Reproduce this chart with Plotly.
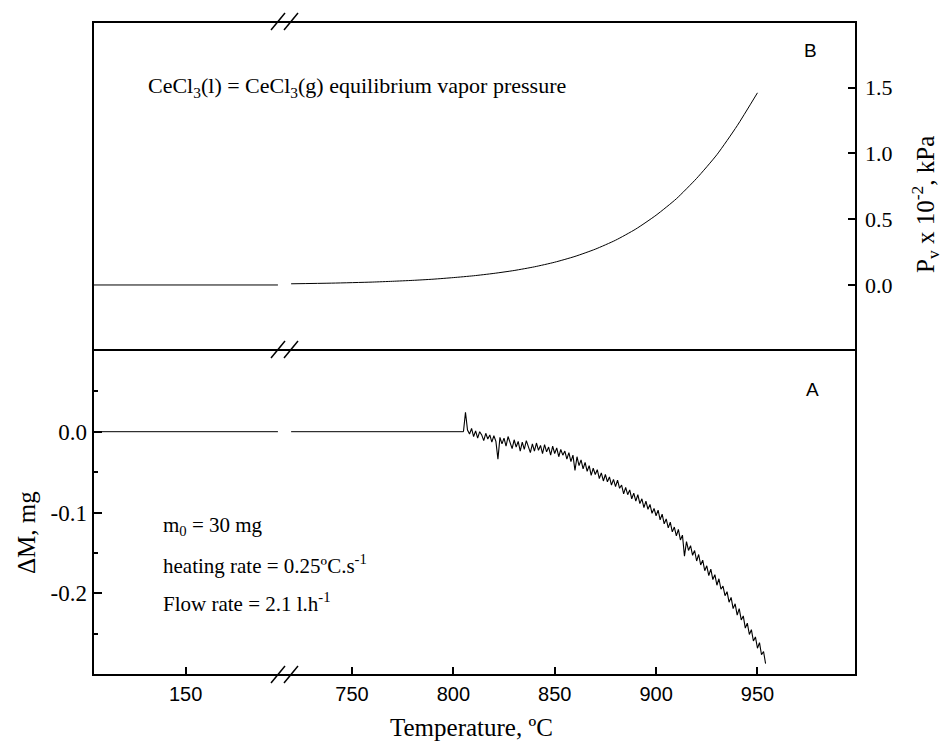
import plotly.graph_objects as go

# ---------------- data ----------------
# Panel B: CeCl3 equilibrium vapor pressure (P x 10^-2 kPa)
T_pv_low = [104, 195.5]
P_pv_low = [0.0, 0.0]
T_pv_high = [720, 740, 760, 770, 780, 790, 800, 810, 820, 830, 840, 850, 860, 870, 880, 890,
             900, 910, 920, 930, 940, 950]
P_pv_high = [0.009, 0.014, 0.022, 0.028, 0.035, 0.044, 0.056, 0.070, 0.088, 0.110, 0.138, 0.173,
             0.217, 0.272, 0.34, 0.425, 0.53, 0.655, 0.81, 0.99, 1.21, 1.46]

# Panel A: mass change (mg)
T_dm_low = [104, 195.5]
DM_low = [0.0, 0.0]
T_dm_flat = [720, 805]
DM_flat = [0.0, 0.0]
T_dm = list(range(805, 955))
DM = [
    0.000, 0.024, 0.002, -0.003, 0.004,
    -0.006, 0.001, -0.008, 0.000, -0.004,
    -0.011, -0.002, -0.009, -0.004, -0.013,
    -0.005, -0.012, -0.034, -0.007, -0.015,
    -0.008, -0.018, -0.006, -0.014, -0.021,
    -0.010, -0.019, -0.012, -0.024, -0.013,
    -0.022, -0.011, -0.020, -0.026, -0.015,
    -0.024, -0.014, -0.023, -0.017, -0.027,
    -0.016, -0.025, -0.019, -0.029, -0.018,
    -0.027, -0.020, -0.031, -0.022, -0.029,
    -0.024, -0.034, -0.026, -0.037, -0.029,
    -0.048, -0.031, -0.042, -0.035, -0.046,
    -0.038, -0.049, -0.042, -0.054, -0.045,
    -0.053, -0.047, -0.058, -0.051, -0.061,
    -0.053, -0.062, -0.056, -0.066, -0.059,
    -0.068, -0.060, -0.070, -0.066, -0.077,
    -0.069, -0.078, -0.072, -0.083, -0.076,
    -0.086, -0.078, -0.089, -0.083, -0.094,
    -0.086, -0.096, -0.090, -0.101, -0.095,
    -0.104, -0.097, -0.109, -0.102, -0.114,
    -0.108, -0.119, -0.112, -0.124, -0.118,
    -0.129, -0.121, -0.134, -0.128, -0.154,
    -0.136, -0.147, -0.141, -0.153, -0.147,
    -0.160, -0.152, -0.165, -0.159, -0.172,
    -0.166, -0.178, -0.170, -0.183, -0.177,
    -0.190, -0.182, -0.195, -0.191, -0.203,
    -0.198, -0.211, -0.205, -0.219, -0.213,
    -0.227, -0.219, -0.233, -0.228, -0.243,
    -0.237, -0.251, -0.245, -0.259, -0.254,
    -0.268, -0.261, -0.276, -0.272, -0.287,
]

x_ticks_low = [150]
x_ticks_high = [750, 800, 850, 900, 950]
y_ticks_A = [0.0, -0.1, -0.2]
y_ticktext_A = ["0.0", "-0.1", "-0.2"]
y_minor_A = [0.05, -0.05, -0.15, -0.25]
y_ticks_B = [0.0, 0.5, 1.0, 1.5]
y_ticktext_B = ["0.0", "0.5", "1.0", "1.5"]

# ---------------- layout geometry ----------------
W, H = 945, 746
L, R, T, B = 93, 89, 22, 71
PW, PH = W - L - R, H - T - B
BREAK_PX = 283
MID_PX = 350

def px_x(px):
    return (px - L) / PW

def px_y(py):
    return (H - B - py) / PH

split = px_x(BREAK_PX)
mid = px_y(MID_PX)

line_style = dict(color="black", width=1)
fig = go.Figure()
fig.add_trace(go.Scatter(x=T_dm_low, y=DM_low, mode="lines", line=line_style, xaxis="x", yaxis="y"))
fig.add_trace(go.Scatter(x=T_dm_flat, y=DM_flat, mode="lines", line=line_style, xaxis="x2", yaxis="y"))
fig.add_trace(go.Scatter(x=T_dm, y=DM, mode="lines", line=dict(color="black", width=1.1), xaxis="x2", yaxis="y"))
fig.add_trace(go.Scatter(x=T_pv_low, y=P_pv_low, mode="lines", line=line_style, xaxis="x", yaxis="y2"))
fig.add_trace(go.Scatter(x=T_pv_high, y=P_pv_high, mode="lines",
                         line=dict(color="black", width=1, shape="spline", smoothing=0.6),
                         xaxis="x2", yaxis="y2"))

sans = "Liberation Sans, Arial, sans-serif"
serif = "Liberation Serif, Times New Roman, serif"

xcommon = dict(showline=False, showgrid=False, zeroline=False, ticks="inside", ticklen=8, tickwidth=1.5,
               tickcolor="black", tickfont=dict(family=sans, size=20, color="black"), anchor="y",
               ticklabelstandoff=5)

fig.update_layout(
    width=W, height=H,
    margin=dict(l=L, r=R, t=T, b=B),
    paper_bgcolor="white", plot_bgcolor="white",
    showlegend=False,
    xaxis=dict(domain=[0, split], range=[104.3, 198.0], tickvals=x_ticks_low, **xcommon),
    xaxis2=dict(domain=[split, 1], range=[716.0, 998.6], tickvals=x_ticks_high, **xcommon),
    yaxis=dict(domain=[0, mid], range=[-0.3011, 0.1011], anchor="x", side="left",
               showline=False, showgrid=False, zeroline=False,
               tickvals=y_ticks_A, ticktext=y_ticktext_A, ticks="inside", ticklen=9, tickwidth=1.5,
               tickcolor="black", tickfont=dict(family=serif, size=23, color="black"),
               ticklabelstandoff=5,
               minor=dict(tickvals=y_minor_A, ticks="inside", ticklen=5, tickwidth=1.5,
                          tickcolor="black", showgrid=False)),
    yaxis2=dict(domain=[mid, 1], range=[-0.494, 1.998], anchor="x2", side="right",
                showline=False, showgrid=False, zeroline=False,
                tickvals=y_ticks_B, ticktext=y_ticktext_B, ticks="inside", ticklen=8, tickwidth=1.5,
                tickcolor="black", tickfont=dict(family=serif, size=22, color="black"),
                ticklabelstandoff=8),
)

# frame and break marks
shapes = [
    dict(type="rect", xref="paper", yref="paper", x0=0, x1=1, y0=0, y1=1, line=dict(color="black", width=2)),
    dict(type="line", xref="paper", yref="paper", x0=0, x1=1, y0=mid, y1=mid, line=dict(color="black", width=2)),
]
for ypx in [T, MID_PX, H - B]:
    for x0 in [271, 284]:
        shapes.append(dict(type="line", xref="paper", yref="paper",
                           x0=px_x(x0), y0=px_y(ypx + 8), x1=px_x(x0 + 14), y1=px_y(ypx - 9),
                           line=dict(color="black", width=1.5)))
fig.update_layout(shapes=shapes)

ann = []
def add_text(text, xpx, ypx, size, family, xanchor="left", angle=0):
    ann.append(dict(text=text, x=px_x(xpx), y=px_y(ypx), xref="paper", yref="paper",
                    xanchor=xanchor, yanchor="middle", showarrow=False, textangle=angle,
                    font=dict(family=family, size=size, color="black")))

add_text("CeCl<sub>3</sub>(l) = CeCl<sub>3</sub>(g) equilibrium vapor pressure", 146, 87, 22, serif)
add_text("m<sub>0</sub> = 30 mg", 161, 526, 21, serif)
add_text("heating rate = 0.25ºC.s<sup>-1</sup>", 161, 564, 21, serif)
add_text("Flow rate = 2.1 l.h<sup>-1</sup>", 161, 602, 21, serif)
add_text("B", 810, 50, 19, sans, xanchor="center")
add_text("A", 812, 390, 19, sans, xanchor="center")
add_text("Temperature, ºC", 471, 727, 25, serif, xanchor="center")
add_text("ΔM, mg", 26, 533, 25, serif, xanchor="center", angle=-90)
add_text("P<sub>v</sub> x 10<sup>-2</sup>, kPa", 925, 205, 25, serif, xanchor="center", angle=-90)
fig.update_layout(annotations=ann)

fig.write_html("out.html")
